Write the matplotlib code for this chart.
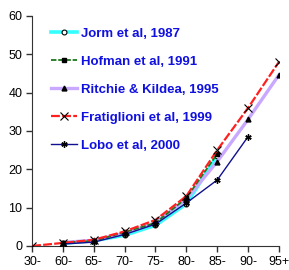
import numpy as np
import matplotlib.pyplot as plt

plt.rcParams['font.family'] = ['Liberation Sans', 'DejaVu Sans']

AgeGroups = ['30-', '60-', '65-', '70-', '75-', '80-', '85-', '90-', '95+']

# prevalence (%) by age group, None where a study has no value
Jorm = [None, 0.7, 1.4, 2.8, 5.4, 11.0, 23.5, None, None]
Hofman = [None, 0.9, 1.3, 3.6, 6.0, 12.5, 24.0, None, None]
Ritchie = [None, 0.9, 1.5, 3.3, 6.0, 12.2, 22.0, 33.0, 44.6]
Fratiglioni = [0.0, 0.8, 1.6, 3.8, 6.8, 13.0, 25.0, 36.0, 48.0]
Lobo = [None, 0.5, 1.0, 3.0, 5.7, 11.2, 17.2, 28.5, None]

asterisk = (6, 2, 0)

series = [
    ('Jorm et al, 1987', Jorm, dict(color='#33ffff', lw=2.6, marker='o', ms=3.5,
                                    mfc='white', mec='black', mew=0.8, zorder=2)),
    ('Hofman et al, 1991', Hofman, dict(color='#1a7a1a', lw=1.3, ls=(0, (3, 1)), marker='s', ms=3.5,
                                        mfc='black', mec='black', zorder=3)),
    ('Ritchie & Kildea, 1995', Ritchie, dict(color='#c9a8ff', lw=2.4, marker='^', ms=3.5,
                                             mfc='black', mec='black', zorder=2)),
    ('Fratiglioni et al, 1999', Fratiglioni, dict(color='#ff2020', lw=1.6, ls=(0, (4, 1)), marker='x', ms=6,
                                                  mec='black', mew=0.8, zorder=4)),
    ('Lobo et al, 2000', Lobo, dict(color='#101090', lw=1, marker=asterisk, ms=4.5,
                                    mec='black', mew=1, zorder=5)),
]

fig = plt.figure(figsize=(2.89, 2.70), dpi=100)
ax = fig.add_axes([0.111, 0.089, 0.854, 0.852])

x = np.arange(len(AgeGroups))
for name, vals, style in series:
    xs = [xi for xi, v in zip(x, vals) if v is not None]
    ys = [v for v in vals if v is not None]
    ax.plot(xs, ys, label=name, **style)

ax.set_xlim(0, len(AgeGroups) - 1)
ax.set_ylim(0, 60)
ax.set_yticks(range(0, 61, 10))
ax.set_xticks(x)
ax.set_xticklabels(AgeGroups)
ax.tick_params(labelsize=9, length=4, width=1, color='#333333', pad=3)
ax.spines['top'].set_visible(False)
ax.spines['right'].set_visible(False)
for s in ['left', 'bottom']:
    ax.spines[s].set_color('#333333')

leg = ax.legend(loc='upper left', bbox_to_anchor=(0.045, 0.985), frameon=False,
                prop={'weight': 'bold', 'size': 9.5}, labelspacing=1.2,
                handlelength=2.0, handletextpad=0.25, borderaxespad=0.2)
for t in leg.get_texts():
    t.set_color('#1010e0')

fig.savefig('out.png', dpi=100)
